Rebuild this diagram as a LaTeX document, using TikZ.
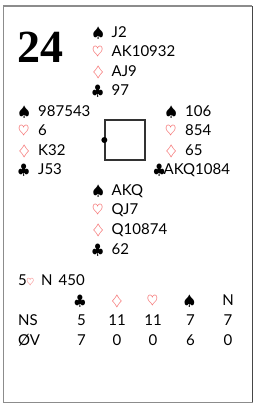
\documentclass[tikz,border=0pt]{standalone}
\usepackage{fontspec}
\setmainfont{Lato}
\newfontfamily\boardfont{Liberation Serif}
\definecolor{redsuit}{RGB}{245,100,100}
\definecolor{framegray}{RGB}{140,140,140}
\definecolor{framedark}{RGB}{70,70,70}
\definecolor{boxgray}{RGB}{50,50,50}
\newcommand{\suitS}{$\spadesuit$}
\newcommand{\suitH}{\textcolor{redsuit}{$\heartsuit$}}
\newcommand{\suitD}{\textcolor{redsuit}{$\diamondsuit$}}
\newcommand{\suitC}{$\clubsuit$}
\begin{document}
\begin{tikzpicture}[x=1pt,y=-1pt,
  hand/.style={anchor=base west, inner sep=0pt, font=\fontsize{15}{17}\selectfont},
  suit/.style={anchor=base west, inner sep=0pt, font=\fontsize{13.5}{15}\selectfont},
  cell/.style={anchor=base, inner sep=0pt, font=\fontsize{15}{17}\selectfont},
  hcell/.style={anchor=base, inner sep=0pt, font=\fontsize{13.5}{15}\selectfont}]
\useasboundingbox (0,0) rectangle (259,407);
\fill[white] (0,0) rectangle (259,407);
% frame
\draw[framegray, line width=1.3pt] (3.6,402) -- (3.6,6) -- (252.4,6);
\draw[framedark, line width=1.3pt] (252.4,6) -- (252.4,402);
\draw[framegray, line width=1.3pt] (3,402.3) -- (253,402.3);
% board number
\node[anchor=base west, inner sep=0pt, font=\boardfont\bfseries\fontsize{46}{50}\selectfont] (board) at (17,62) {24};
% North
\node[suit] (ns) at (92.5,37) {\suitS};
\node[hand] (nst) at (111.5,37) {J2};
\node[suit] (nh) at (92,56) {\suitH};
\node[hand] (nht) at (111.5,56) {AK10932};
\node[suit] (nd) at (92.5,76) {\suitD};
\node[hand] (ndt) at (111.5,76) {AJ9};
\node[suit] (nc) at (92,95.5) {\suitC};
\node[hand] (nct) at (111.5,95.5) {97};
% West
\node[suit] (ws) at (18.5,116) {\suitS};
\node[hand] (wst) at (38,116) {987543};
\node[suit] (wh) at (18,135.5) {\suitH};
\node[hand] (wht) at (38,135.5) {6};
\node[suit] (wd) at (18.5,155) {\suitD};
\node[hand] (wdt) at (38,155) {K32};
\node[suit] (wc) at (18,174.5) {\suitC};
\node[hand] (wct) at (38,174.5) {J53};
% East
\node[suit] (es) at (165.5,116) {\suitS};
\node[hand] (est) at (185,116) {106};
\node[suit] (eh) at (165,135.5) {\suitH};
\node[hand] (eht) at (185,135.5) {854};
\node[suit] (ed) at (165.5,155) {\suitD};
\node[hand] (edt) at (185,155) {65};
\node[suit] (ec) at (153.5,174.5) {\suitC};
\node[hand] (ect) at (163.5,174.5) {AKQ1084};
% compass box
\node[draw=boxgray, line width=1.3pt, minimum size=40pt, inner sep=0pt] (table) at (125,140) {};
\fill (table.west) circle (3pt);
% South
\node[suit] (ss) at (92.5,195) {\suitS};
\node[hand] (sst) at (111.5,195) {AKQ};
\node[suit] (sh) at (92,214.5) {\suitH};
\node[hand] (sht) at (111.5,214.5) {QJ7};
\node[suit] (sd) at (92.5,234) {\suitD};
\node[hand] (sdt) at (111.5,234) {Q10874};
\node[suit] (sc) at (92,254.5) {\suitC};
\node[hand] (sct) at (111.5,254.5) {62};
% contract
\node[hand] (contract) at (18,285) {5\kern-0.5pt{\fontsize{10}{11}\selectfont\suitH}\hspace{7pt}N\hspace{6pt}450};
% table of tricks
\node[hcell] (hc) at (80,305) {\suitC};
\node[hcell] (hd) at (117,305) {\suitD};
\node[hcell] (hh) at (152.5,305) {\suitH};
\node[hcell] (hs) at (189.5,305) {\suitS};
\node[cell] (hn) at (228,305) {N};
\node[hand] (rns) at (18,325) {NS};
\node[cell] (ns1) at (81.5,325) {5};
\node[cell] (ns2) at (117,325) {11};
\node[cell] (ns3) at (153,325) {11};
\node[cell] (ns4) at (190.5,325) {7};
\node[cell] (ns5) at (228,325) {7};
\node[hand] (rew) at (18,345) {ØV};
\node[cell] (ew1) at (81.5,345) {7};
\node[cell] (ew2) at (117,345) {0};
\node[cell] (ew3) at (153,345) {0};
\node[cell] (ew4) at (190.5,345) {6};
\node[cell] (ew5) at (228,345) {0};
\end{tikzpicture}
\end{document}
